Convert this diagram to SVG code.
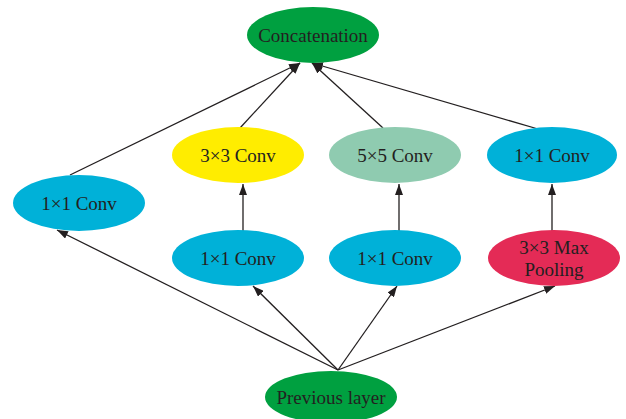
<svg xmlns="http://www.w3.org/2000/svg" width="626" height="419" viewBox="0 0 626 419">
<defs>
<marker id="ah" viewBox="0 0 11 8" refX="11" refY="4" markerWidth="11" markerHeight="8" markerUnits="userSpaceOnUse" orient="auto">
<path d="M0,0 L11,4 L0,8 Z" fill="#231f20"/>
</marker>
</defs>
<style>
text{font-family:"Liberation Serif","Times New Roman",serif;font-size:19px;fill:#231f20;text-anchor:middle;dominant-baseline:central}
.e{stroke:none}
.green{fill:#00a040}
.cyan{fill:#00b1d8}
.yellow{fill:#ffed00}
.mint{fill:#8fcbb0}
.red{fill:#e42b56}
.c line{stroke:#231f20;stroke-width:1.3;marker-end:url(#ah)}
</style>
<rect width="626" height="419" fill="#ffffff"/>
<g class="c" id="connectors">
<line x1="338" y1="370" x2="57" y2="230"/>
<line x1="338" y1="370" x2="253" y2="286"/>
<line x1="338" y1="370" x2="397" y2="286"/>
<line x1="338" y1="370" x2="555" y2="286"/>
<line x1="243" y1="231" x2="243" y2="184"/>
<line x1="399" y1="231" x2="399" y2="184"/>
<line x1="552" y1="231" x2="552" y2="184"/>
<line x1="70" y1="175" x2="300" y2="63"/>
<line x1="240" y1="128" x2="300" y2="63"/>
<line x1="383" y1="128" x2="312" y2="63"/>
<line x1="538" y1="129" x2="312" y2="63"/>
</g>
<g id="concat"><ellipse class="e green" cx="313" cy="35" rx="66" ry="28"/><text x="313" y="35">Concatenation</text></g>
<g id="conv3x3"><ellipse class="e yellow" cx="238" cy="155" rx="66" ry="28"/><text x="238" y="155">3×3 Conv</text></g>
<g id="conv5x5"><ellipse class="e mint" cx="395" cy="155" rx="66" ry="28"/><text x="395" y="155">5×5 Conv</text></g>
<g id="conv1x1_d"><ellipse class="e cyan" cx="552" cy="155" rx="65" ry="28"/><text x="552" y="155">1×1 Conv</text></g>
<g id="conv1x1_a"><ellipse class="e cyan" cx="79" cy="203" rx="66" ry="28"/><text x="79" y="203">1×1 Conv</text></g>
<g id="conv1x1_b"><ellipse class="e cyan" cx="238" cy="258" rx="66" ry="28"/><text x="238" y="258">1×1 Conv</text></g>
<g id="conv1x1_c"><ellipse class="e cyan" cx="395" cy="258" rx="66" ry="28"/><text x="395" y="258">1×1 Conv</text></g>
<g id="maxpool"><ellipse class="e red" cx="554" cy="258" rx="66" ry="28"/><text x="554" y="247">3×3 Max</text><text x="554" y="269">Pooling</text></g>
<g id="prev"><ellipse class="e green" cx="331" cy="397" rx="66" ry="26"/><text x="331" y="397">Previous layer</text></g>
</svg>
